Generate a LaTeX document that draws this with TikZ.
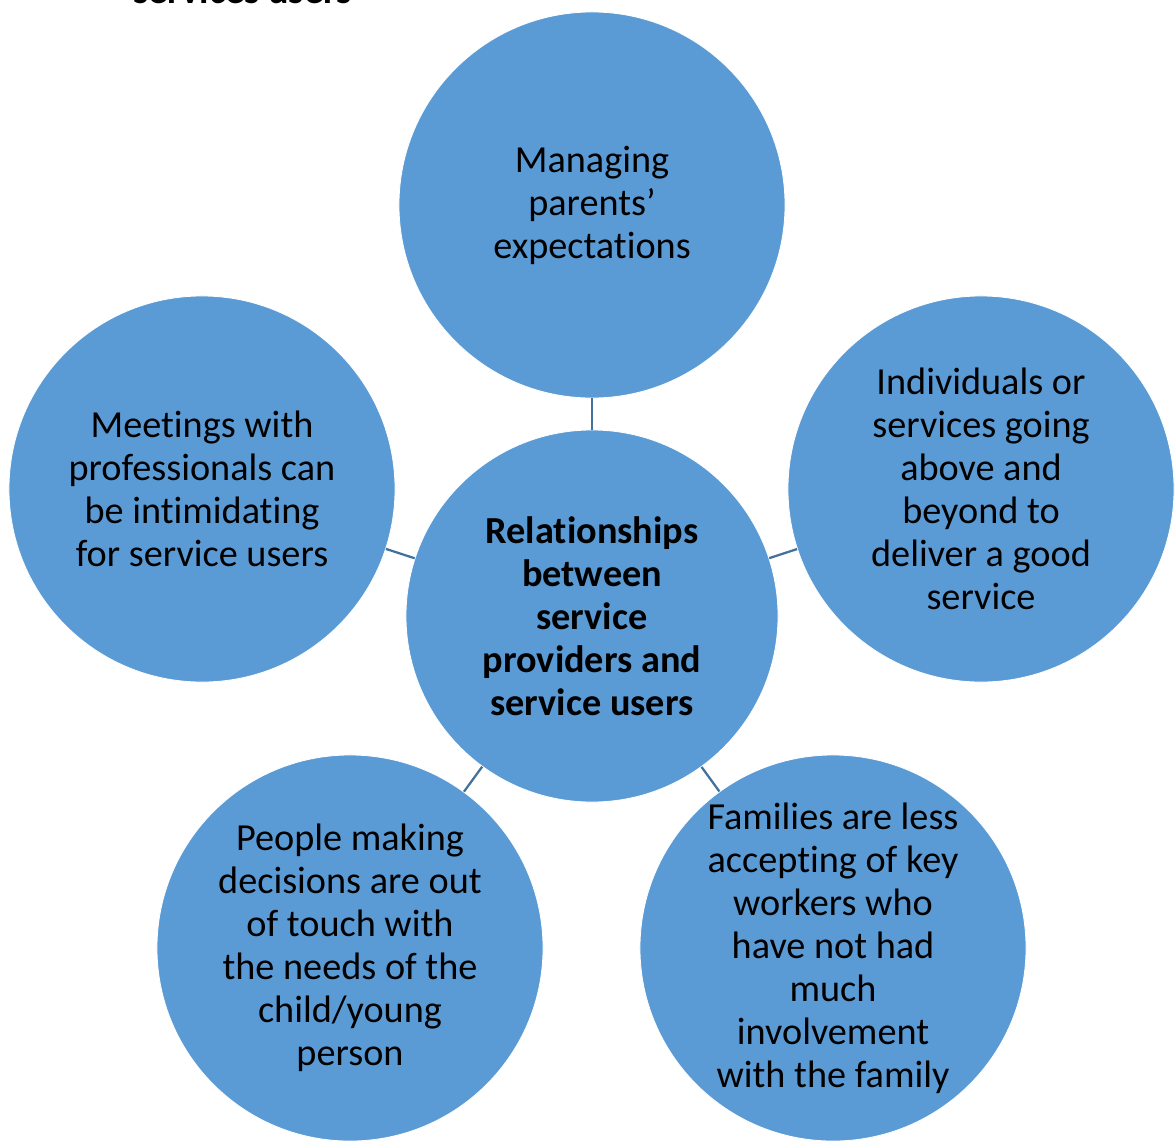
\documentclass[tikz,border=0pt]{standalone}
\usepackage{fontspec}
\setmainfont[Ligatures=NoCommon]{Carlito}
\definecolor{bubblue}{RGB}{91,155,213}
\definecolor{linkblue}{RGB}{65,113,156}
\begin{document}
\begin{tikzpicture}[x=0.025cm,y=-0.025cm,
        bubble/.style={circle,fill=bubblue,draw=white,line width=0.6pt,minimum size=9.65cm,inner sep=0pt,align=center,font=\fontsize{27.2}{30.6}\selectfont},
        hub/.style={bubble,minimum size=9.3cm,font=\fontsize{27.2}{30.6}\selectfont\bfseries},
        link/.style={-,draw=linkblue,line width=1.6pt}]
    \useasboundingbox (0,0) rectangle (1176,1140);
    % heading cut by the top edge
    \node[anchor=base west,inner sep=0pt,font=\fontsize{27.2}{30.6}\selectfont\bfseries] (heading) at (133,3) {services users};
    \node[hub] (hub) at (592,616) {Relationships\\between\\service\\providers and\\service users};
    \node[bubble] (parents) at (592,205) {Managing\\parents’\\expectations};
    \node[bubble] (meetings) at (202,489) {Meetings with\\professionals can\\be intimidating\\for service users};
    \node[bubble] (beyond) at (981,489) {Individuals or\\services going\\above and\\beyond to\\deliver a good\\service};
    \node[bubble] (decisions) at (350,948) {People making\\decisions are out\\of touch with\\the needs of the\\child/young\\person};
    \node[bubble] (families) at (833,948) {Families are less\\accepting of key\\workers who\\have not had\\much\\involvement\\with the family};
    \draw[link] (parents)--(hub);
    \draw[link] (meetings)--(hub);
    \draw[link] (beyond)--(hub);
    \draw[link] (decisions)--(hub);
    \draw[link] (families)--(hub);
\end{tikzpicture}
\end{document}
